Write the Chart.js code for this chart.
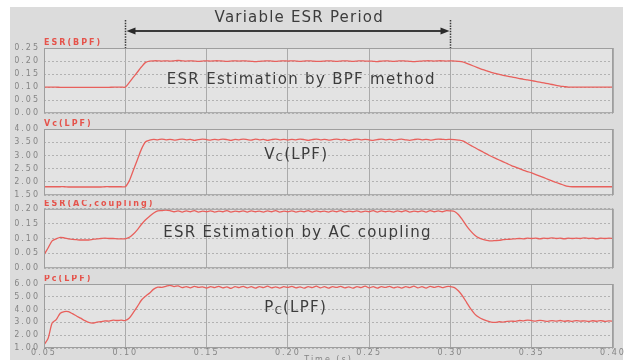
<!DOCTYPE html>
<html>
<head>
<meta charset="utf-8">
<script src="https://cdn.jsdelivr.net/npm/chart.js@4.4.1/dist/chart.umd.min.js"></script>
<style>
  html, body { margin: 0; padding: 0; background: #fff; overflow: hidden; }
  #frame { position: absolute; left: 10px; top: 7px; width: 613px; height: 353px; background: #dcdcdc; }
  canvas { position: absolute; left: 0px; }
</style>
</head>
<body>
<div id="frame"></div>
<canvas id="p1" width="629" height="122" style="top:0px"></canvas>
<canvas id="p2" width="629" height="86" style="top:118px"></canvas>
<canvas id="p3" width="629" height="77" style="top:200px"></canvas>
<canvas id="p4" width="629" height="90" style="top:275px"></canvas>
<script>
// time axis (s), one sample every 2.5 ms
const time = [
  0.05,0.0525,0.055,0.0575,0.06,0.0625,0.065,0.0675,0.07,0.0725,
  0.075,0.0775,0.08,0.0825,0.085,0.0875,0.09,0.0925,0.095,0.0975,
  0.1,0.1025,0.105,0.1075,0.11,0.1125,0.115,0.1175,0.12,0.1225,
  0.125,0.1275,0.13,0.1325,0.135,0.1375,0.14,0.1425,0.145,0.1475,
  0.15,0.1525,0.155,0.1575,0.16,0.1625,0.165,0.1675,0.17,0.1725,
  0.175,0.1775,0.18,0.1825,0.185,0.1875,0.19,0.1925,0.195,0.1975,
  0.2,0.2025,0.205,0.2075,0.21,0.2125,0.215,0.2175,0.22,0.2225,
  0.225,0.2275,0.23,0.2325,0.235,0.2375,0.24,0.2425,0.245,0.2475,
  0.25,0.2525,0.255,0.2575,0.26,0.2625,0.265,0.2675,0.27,0.2725,
  0.275,0.2775,0.28,0.2825,0.285,0.2875,0.29,0.2925,0.295,0.2975,
  0.3,0.3025,0.305,0.3075,0.31,0.3125,0.315,0.3175,0.32,0.3225,
  0.325,0.3275,0.33,0.3325,0.335,0.3375,0.34,0.3425,0.345,0.3475,
  0.35,0.3525,0.355,0.3575,0.36,0.3625,0.365,0.3675,0.37,0.3725,
  0.375,0.3775,0.38,0.3825,0.385,0.3875,0.39,0.3925,0.395,0.3975,
  0.4
];

const esrBpf = [
  0.100,0.100,0.100,0.100,0.099,0.099,0.099,0.099,0.099,0.099,
  0.099,0.099,0.099,0.099,0.099,0.099,0.099,0.100,0.100,0.100,
  0.100,0.118,0.138,0.158,0.178,0.195,0.200,0.201,0.201,0.200,
  0.201,0.200,0.201,0.202,0.201,0.200,0.201,0.200,0.199,0.200,
  0.201,0.200,0.201,0.201,0.200,0.199,0.200,0.201,0.200,0.201,
  0.200,0.199,0.198,0.199,0.200,0.201,0.200,0.199,0.200,0.201,
  0.200,0.201,0.200,0.199,0.200,0.201,0.200,0.199,0.199,0.200,
  0.201,0.200,0.199,0.200,0.201,0.200,0.199,0.200,0.201,0.200,
  0.200,0.199,0.198,0.200,0.201,0.200,0.199,0.200,0.201,0.200,
  0.199,0.198,0.199,0.200,0.201,0.201,0.200,0.201,0.201,0.200,
  0.201,0.200,0.199,0.197,0.191,0.185,0.179,0.173,0.167,0.162,
  0.157,0.153,0.149,0.145,0.142,0.139,0.136,0.133,0.130,0.128,
  0.125,0.122,0.119,0.116,0.113,0.110,0.107,0.104,0.102,0.100,
  0.100,0.100,0.100,0.100,0.100,0.100,0.100,0.100,0.100,0.100,
  0.100
];

const vcLpf = [
  1.82,1.82,1.82,1.82,1.82,1.82,1.81,1.81,1.81,1.81,
  1.81,1.81,1.81,1.81,1.81,1.82,1.82,1.82,1.82,1.82,
  1.82,2.05,2.45,2.85,3.25,3.52,3.58,3.61,3.59,3.62,
  3.59,3.61,3.58,3.60,3.62,3.59,3.61,3.57,3.60,3.62,
  3.60,3.58,3.61,3.59,3.62,3.60,3.57,3.61,3.59,3.62,
  3.60,3.58,3.62,3.59,3.61,3.57,3.60,3.62,3.59,3.61,
  3.58,3.61,3.59,3.62,3.60,3.57,3.60,3.62,3.59,3.61,
  3.58,3.60,3.62,3.59,3.61,3.57,3.60,3.62,3.59,3.61,
  3.59,3.57,3.60,3.62,3.59,3.61,3.58,3.60,3.62,3.59,
  3.57,3.60,3.62,3.59,3.61,3.58,3.60,3.62,3.61,3.60,
  3.61,3.60,3.58,3.55,3.47,3.38,3.30,3.21,3.13,3.05,
  2.97,2.90,2.83,2.76,2.69,2.62,2.56,2.50,2.44,2.39,
  2.34,2.28,2.22,2.16,2.10,2.04,1.98,1.93,1.87,1.83,
  1.82,1.82,1.82,1.82,1.82,1.82,1.82,1.82,1.82,1.82,
  1.82
];

const esrAc = [
  0.045,0.068,0.092,0.099,0.104,0.102,0.099,0.097,0.096,0.095,
  0.095,0.095,0.097,0.099,0.100,0.101,0.100,0.100,0.099,0.099,
  0.099,0.104,0.115,0.130,0.148,0.163,0.175,0.186,0.193,0.194,
  0.196,0.194,0.190,0.193,0.189,0.193,0.190,0.194,0.189,0.192,
  0.190,0.193,0.189,0.192,0.190,0.194,0.189,0.192,0.190,0.193,
  0.189,0.193,0.190,0.192,0.189,0.193,0.190,0.194,0.189,0.192,
  0.190,0.193,0.189,0.192,0.190,0.194,0.189,0.193,0.190,0.192,
  0.189,0.193,0.190,0.194,0.189,0.192,0.190,0.193,0.189,0.192,
  0.190,0.194,0.189,0.193,0.190,0.192,0.189,0.193,0.190,0.194,
  0.189,0.192,0.190,0.193,0.189,0.194,0.190,0.193,0.190,0.194,
  0.193,0.191,0.180,0.162,0.142,0.125,0.111,0.102,0.097,0.094,
  0.092,0.093,0.094,0.096,0.097,0.098,0.099,0.100,0.099,0.101,
  0.100,0.101,0.099,0.101,0.100,0.102,0.100,0.101,0.099,0.101,
  0.100,0.101,0.100,0.102,0.100,0.101,0.099,0.101,0.100,0.101,
  0.100
];

const pcLpf = [
  1.25,1.75,2.95,3.22,3.72,3.85,3.84,3.68,3.50,3.33,
  3.15,3.00,2.95,3.02,3.05,3.12,3.10,3.18,3.15,3.18,
  3.15,3.35,3.78,4.25,4.75,5.05,5.30,5.60,5.75,5.74,
  5.82,5.90,5.80,5.85,5.72,5.80,5.70,5.82,5.74,5.78,
  5.68,5.80,5.72,5.82,5.70,5.78,5.66,5.80,5.72,5.82,
  5.70,5.79,5.68,5.80,5.72,5.83,5.70,5.78,5.68,5.80,
  5.73,5.82,5.70,5.78,5.67,5.80,5.72,5.83,5.70,5.79,
  5.68,5.80,5.73,5.82,5.70,5.78,5.67,5.80,5.72,5.83,
  5.70,5.79,5.68,5.80,5.73,5.82,5.70,5.78,5.68,5.80,
  5.72,5.83,5.70,5.79,5.68,5.81,5.73,5.82,5.72,5.80,
  5.80,5.72,5.45,5.05,4.55,4.05,3.65,3.40,3.24,3.12,
  3.03,3.00,3.05,3.02,3.08,3.10,3.08,3.15,3.12,3.18,
  3.14,3.10,3.16,3.12,3.08,3.14,3.10,3.15,3.09,3.13,
  3.08,3.14,3.10,3.12,3.07,3.13,3.09,3.14,3.08,3.12,
  3.10
];

// tick values
const xTicks = [0.05, 0.10, 0.15, 0.20, 0.25, 0.30, 0.35, 0.40];
const bpfTicks = [0.00, 0.05, 0.10, 0.15, 0.20, 0.25];
const vcTicks = [1.50, 2.00, 2.50, 3.00, 3.50, 4.00];
const acTicks = [0.00, 0.05, 0.10, 0.15, 0.20];
const pcTicks = [1.00, 2.00, 3.00, 4.00, 5.00, 6.00];

const lineColor = '#e8605c';
const FONT = '"DejaVu Sans", sans-serif';

Chart.defaults.font.family = FONT;
Chart.defaults.font.size = 8;
Chart.defaults.color = '#858585';

// plot background, frame, red panel title, big caption and the ESR period arrow
const panelPlugin = {
  id: 'panel',
  beforeDraw(chart) {
    const { ctx, chartArea: a } = chart;
    ctx.save();
    ctx.fillStyle = '#e3e3e3';
    ctx.fillRect(a.left, a.top, a.right - a.left, a.bottom - a.top);
    ctx.restore();
    ctx.letterSpacing = '2px';
  },
  afterDraw(chart, args, opts) {
    const { ctx, chartArea: a, scales } = chart;
    ctx.save();
    ctx.setLineDash([]);
    ctx.strokeStyle = '#9e9e9e';
    ctx.lineWidth = 1;
    ctx.strokeRect(a.left + 0.5, a.top + 0.5, a.right - a.left - 1, a.bottom - a.top - 1);

    ctx.textBaseline = 'middle';
    ctx.fillStyle = '#e5534b';
    ctx.font = 'bold 8px ' + FONT;
    ctx.letterSpacing = '2px';
    ctx.fillText(opts.title, a.left, a.top - 5);

    if (opts.note) {
      let x = scales.x.getPixelForValue(opts.note.x);
      const y = scales.y.getPixelForValue(opts.note.y);
      ctx.fillStyle = '#3c3c3c';
      ctx.letterSpacing = '1.3px';
      opts.note.parts.forEach(([t, sub]) => {
        ctx.font = (sub ? 10 : 15) + 'px ' + FONT;
        ctx.fillText(t, x, sub ? y + 3 : y);
        x += ctx.measureText(t).width;
      });
    }

    if (opts.period) {
      const p = opts.period;
      const x1 = Math.round(scales.x.getPixelForValue(p.from)) + 0.5;
      const x2 = Math.round(scales.x.getPixelForValue(p.to)) + 0.5;
      const ya = a.top - 17;
      ctx.strokeStyle = '#3a3a3a';
      ctx.lineWidth = 1.5;
      ctx.setLineDash([1.5, 1.2]);
      [x1, x2].forEach(x => {
        ctx.beginPath();
        ctx.moveTo(x, a.top - 28);
        ctx.lineTo(x, a.top);
        ctx.stroke();
      });
      ctx.setLineDash([]);
      ctx.lineWidth = 2;
      ctx.beginPath();
      ctx.moveTo(x1 + 6, ya);
      ctx.lineTo(x2 - 6, ya);
      ctx.stroke();
      ctx.fillStyle = '#2a2a2a';
      ctx.beginPath();
      ctx.moveTo(x1 + 1, ya);
      ctx.lineTo(x1 + 10, ya - 3.5);
      ctx.lineTo(x1 + 10, ya + 3.5);
      ctx.closePath();
      ctx.fill();
      ctx.beginPath();
      ctx.moveTo(x2 - 1, ya);
      ctx.lineTo(x2 - 10, ya - 3.5);
      ctx.lineTo(x2 - 10, ya + 3.5);
      ctx.closePath();
      ctx.fill();
      ctx.fillStyle = '#3c3c3c';
      ctx.font = '15px ' + FONT;
      ctx.letterSpacing = '1.2px';
      ctx.textAlign = 'center';
      ctx.fillText(p.label, scales.x.getPixelForValue(p.labelAt), a.top - 30);
    }
    ctx.restore();
  }
};

function fixedTicks(values) {
  return scale => { scale.ticks = values.map(v => ({ value: v })); };
}

function makePanel(id, values, yTicks, pad, panelOpts, showTime) {
  new Chart(document.getElementById(id), {
    type: 'line',
    data: {
      labels: time,
      datasets: [{
        data: values,
        borderColor: lineColor,
        borderWidth: 1.3,
        pointRadius: 0,
        tension: 0.25,
        fill: false,
      }],
    },
    options: {
      responsive: false,
      animation: false,
      devicePixelRatio: 1,
      layout: { padding: { left: 15, right: 16, top: pad.top, bottom: pad.bottom } },
      plugins: {
        legend: { display: false },
        tooltip: { enabled: false },
        panel: panelOpts,
      },
      scales: {
        x: {
          type: 'linear',
          min: xTicks[0],
          max: xTicks[xTicks.length - 1],
          afterBuildTicks: fixedTicks(xTicks),
          afterFit: scale => { scale.height = showTime ? 17 : 0; },
          grid: { color: '#aaaaaa', drawTicks: false },
          border: { display: false },
          ticks: {
            display: showTime,
            padding: 0,
            autoSkip: false,
            maxRotation: 0,
            callback: v => v.toFixed(2),
          },
          title: { display: showTime, text: 'Time (s)', padding: 0, font: { size: 8 } },
        },
        y: {
          min: yTicks[0],
          max: yTicks[yTicks.length - 1],
          afterBuildTicks: fixedTicks(yTicks),
          afterFit: scale => { scale.width = 29; },
          grid: { color: '#b2b2b2', drawTicks: false },
          border: { display: false, dash: [2, 2] },
          ticks: { padding: 4, callback: v => v.toFixed(2) },
        },
      },
    },
    plugins: [panelPlugin],
  });
}

makePanel('p1', esrBpf, bpfTicks, { top: 48, bottom: 5 }, {
  title: 'ESR(BPF)',
  note: { x: 0.1255, y: 0.125, parts: [['ESR Estimation by BPF method', false]] },
  period: { from: 0.10, to: 0.30, labelAt: 0.207, label: 'Variable ESR Period' },
}, false);

makePanel('p2', vcLpf, vcTicks, { top: 11, bottom: 5 }, {
  title: 'Vc(LPF)',
  note: { x: 0.1855, y: 3.0, parts: [['V', false], ['C', true], ['(LPF)', false]] },
}, false);

makePanel('p3', esrAc, acTicks, { top: 8, bottom: 5 }, {
  title: 'ESR(AC,coupling)',
  note: { x: 0.1233, y: 0.117, parts: [['ESR Estimation by AC coupling', false]] },
}, false);

makePanel('p4', pcLpf, pcTicks, { top: 9, bottom: 0 }, {
  title: 'Pc(LPF)',
  note: { x: 0.1855, y: 4.1, parts: [['P', false], ['C', true], ['(LPF)', false]] },
}, true);
</script>
</body>
</html>
